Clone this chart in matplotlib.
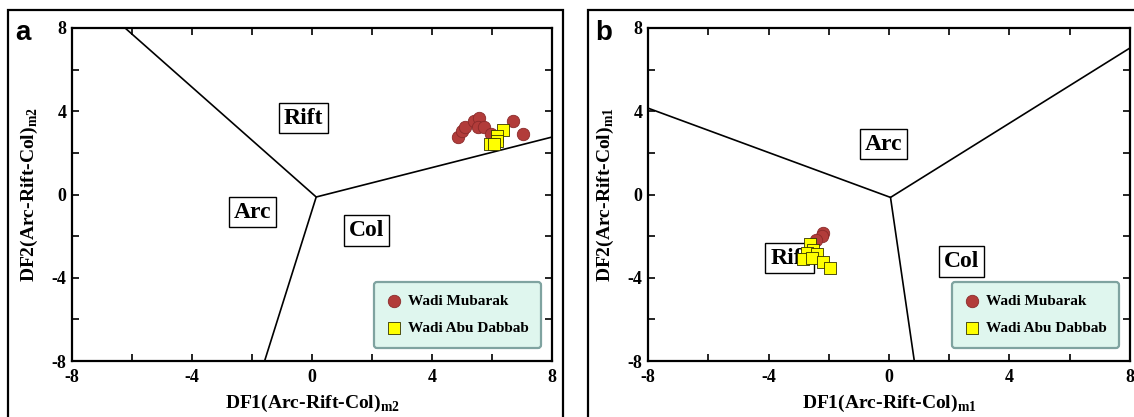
import matplotlib
matplotlib.use("Agg")
import matplotlib.pyplot as plt
from matplotlib.patches import Rectangle
from matplotlib.ticker import MultipleLocator, FuncFormatter

plt.rcParams['font.family'] = 'Liberation Serif'
plt.rcParams['font.weight'] = 'bold'
plt.rcParams['axes.labelweight'] = 'bold'
plt.rcParams['mathtext.fontset'] = 'custom'
plt.rcParams['mathtext.rm'] = 'Liberation Serif:bold'

# panel a (m2) data
mub_a_x = [4.88, 4.99, 5.10, 5.40, 5.58, 5.54, 5.73, 5.96, 6.69, 7.02]
mub_a_y = [2.75, 3.04, 3.23, 3.52, 3.68, 3.23, 3.23, 2.91, 3.52, 2.91]
dab_a_x = [6.36, 6.16, 6.16, 5.93, 6.07]
dab_a_y = [3.12, 2.80, 2.59, 2.43, 2.43]

# panel b (m1) data
mub_b_x = [-2.19, -2.24, -2.41]
mub_b_y = [-1.84, -1.97, -2.20]
dab_b_x = [-2.63, -2.52, -2.72, -2.85, -2.39, -2.57, -2.19, -1.96]
dab_b_y = [-2.40, -2.68, -2.80, -3.09, -2.88, -3.04, -3.25, -3.52]

# field boundaries: (x, y) from junction outward
bounds_a = [[(-6.23, 8), (0.14, -0.12), (8, 2.76)], [(0.14, -0.12), (-1.58, -8)]]
bounds_b = [[(-8, 4.15), (0.05, -0.14), (8, 7.04)], [(0.05, -0.14), (0.84, -8)]]

fields_a = [("Rift", -0.28, 3.67), ("Arc", -1.98, -0.85), ("Col", 1.83, -1.74)]
fields_b = [("Arc", -0.19, 2.42), ("Rift", -3.29, -3.06), ("Col", 2.41, -3.22)]

fig = plt.figure(figsize=(11.34, 4.17), dpi=100)

# outer frames
for x0, x1 in [(8, 563), (588, 1142)]:
    fig.patches.append(Rectangle((x0 / 1134, -0.02), (x1 - x0) / 1134, 0.02 + (417 - 10) / 417,
                                 transform=fig.transFigure, fill=False, lw=1.6, ec='black'))

ax_a = fig.add_axes([72 / 1134, 56 / 417, 480 / 1134, 333 / 417])
ax_b = fig.add_axes([648 / 1134, 56 / 417, 482 / 1134, 333 / 417])


def fmt(v, pos):
    if abs(v % 4) < 1e-6:
        return "%d" % v
    return ""


def draw(ax, bounds, fields, mx, my, dx, dy, sub, letter, lx):
    ax.set_xlim(-8, 8)
    ax.set_ylim(-8, 8)
    for seg in bounds:
        ax.plot([p[0] for p in seg], [p[1] for p in seg], color='black', lw=1.2, zorder=2)
    for name, x, y in fields:
        ax.text(x, y, name, fontsize=17, fontweight='bold', ha='center', va='center', zorder=3,
                bbox=dict(boxstyle='square,pad=0.2', fc='white', ec='black', lw=1.0))
    ax.scatter(mx, my, s=80, marker='o', c='#b23c3a', edgecolors='#8a2a2a', linewidths=0.6,
               zorder=4, label='Wadi Mubarak')
    ax.scatter(dx, dy, s=65, marker='s', c='#ffff00', edgecolors='#333300', linewidths=0.6,
               zorder=5, label='Wadi Abu Dabbab')
    ax.xaxis.set_major_locator(MultipleLocator(2))
    ax.yaxis.set_major_locator(MultipleLocator(2))
    ax.xaxis.set_major_formatter(FuncFormatter(fmt))
    ax.yaxis.set_major_formatter(FuncFormatter(fmt))
    ax.tick_params(direction='in', length=5, width=1.2, top=True, right=True, labelsize=13)
    ax.tick_params(axis='x', pad=6)
    ax.tick_params(axis='y', pad=4)
    for lab in ax.get_xticklabels() + ax.get_yticklabels():
        lab.set_fontweight('bold')
    for s in ax.spines.values():
        s.set_linewidth(1.6)
    ax.set_xlabel("DF1(Arc-Rift-Col)$_{\\mathrm{%s}}$" % sub, fontsize=14,
                  fontweight='bold', labelpad=5)
    ax.set_ylabel("DF2(Arc-Rift-Col)$_{\\mathrm{%s}}$" % sub, fontsize=14,
                  fontweight='bold', labelpad=8)
    leg = ax.legend(loc='lower right', bbox_to_anchor=(0.977, 0.04), borderaxespad=0,
                    prop={'size': 11, 'weight': 'bold'}, fancybox=True, framealpha=1,
                    handletextpad=0.4, borderpad=0.8, labelspacing=0.9, handlelength=1.0)
    leg.get_frame().set_facecolor('#dff6ee')
    leg.get_frame().set_edgecolor('#7fa3a0')
    leg.get_frame().set_linewidth(1.6)
    fig.text(lx, 0.92, letter, fontsize=20, family='Liberation Sans', weight='bold',
             ha='left', va='center')


draw(ax_a, bounds_a, fields_a, mub_a_x, mub_a_y, dab_a_x, dab_a_y, 'm2', 'a', 15 / 1134)
draw(ax_b, bounds_b, fields_b, mub_b_x, mub_b_y, dab_b_x, dab_b_y, 'm1', 'b', 595 / 1134)

fig.savefig('out.png', dpi=100)
